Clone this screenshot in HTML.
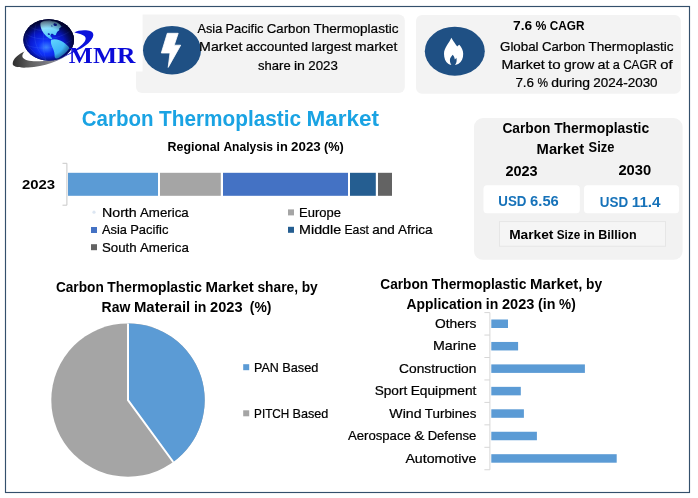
<!DOCTYPE html>
<html lang="en">
<head>
<meta charset="utf-8">
<title>Carbon Thermoplastic Market</title>
<style>
html,body{margin:0;padding:0;background:#fff;}
body{width:698px;height:498px;overflow:hidden;}
svg{display:block;font-family:"Liberation Sans", sans-serif;}
</style>
</head>
<body>
<svg width="698" height="498" viewBox="0 0 698 498">
<defs>
<radialGradient id="gGlobe" cx="0.46" cy="0.66" r="0.6" fx="0.45" fy="0.68">
<stop offset="0" stop-color="#3a84ff"/><stop offset="0.26" stop-color="#1034fa"/><stop offset="0.58" stop-color="#0818cc"/><stop offset="1" stop-color="#030a5a"/>
</radialGradient>
<radialGradient id="gEdge" cx="0.47" cy="0.55" r="0.56">
<stop offset="0.6" stop-color="#00001c" stop-opacity="0"/><stop offset="0.85" stop-color="#00001c" stop-opacity="0.45"/><stop offset="1" stop-color="#00001c" stop-opacity="0.9"/>
</radialGradient>
<clipPath id="cGlobe"><ellipse cx="48.7" cy="39.9" rx="25.3" ry="20.6"/></clipPath>
<linearGradient id="gSw" x1="0" y1="0" x2="1" y2="0">
<stop offset="0" stop-color="#2e2e2e"/><stop offset="0.3" stop-color="#5e5e5e"/><stop offset="0.7" stop-color="#85858c"/><stop offset="1" stop-color="#3848c0"/>
</linearGradient>
<linearGradient id="gLand" x1="0" y1="0" x2="0.3" y2="1">
<stop offset="0" stop-color="#c4f6ff"/><stop offset="1" stop-color="#48c4fa"/>
</linearGradient>
<linearGradient id="gLand2" x1="0" y1="0" x2="0.5" y2="1">
<stop offset="0" stop-color="#62d6ff"/><stop offset="1" stop-color="#2ea4f4"/>
</linearGradient>
</defs>
<rect x="0" y="0" width="698" height="498" fill="#fff"/>
<rect x="5.5" y="6.5" width="684" height="486" fill="#fff" stroke="#34506c" stroke-width="1.15"/>
<rect x="136" y="14.6" width="268.8" height="78.5" rx="6" fill="#f3f3f3"/>
<rect x="100" y="10" width="42.6" height="61.5" fill="#fff"/>
<g id="logo">
<path d="M12.7 63.8 C12.9 58.8 18.5 54.3 24.6 51.6 C21.2 55.2 21.4 58.6 27 60.2 C36 62.6 52 61.2 69.5 53.4 C60 60.8 44 66.6 28 67.6 C19 68.2 12.6 66.8 12.7 63.8 Z" fill="url(#gSw)"/>
<path d="M38 63.0 C51 62.2 62.5 58.4 72.2 51.8 C77 48.6 82 45.2 84.4 42 C86 39.8 86.2 37.6 84.4 36 C82.4 34.4 78.6 33.4 74.3 32.4 C77 30.6 81.5 29.9 86 30.2 C91.2 30.6 93.8 32.4 93.3 35.4 C92.4 40.4 86 46 78.3 49.8 C66.5 56.2 52 62.4 38 63.0 Z" fill="#0b12dc"/>
<ellipse cx="48.7" cy="39.9" rx="25.3" ry="20.6" fill="#02053a"/>
<ellipse cx="48.7" cy="39.9" rx="25.3" ry="20.6" fill="url(#gGlobe)"/>
<g clip-path="url(#cGlobe)">
<g fill="none" stroke="#5a8cff" stroke-opacity="0.35" stroke-width="0.5">
<path d="M46 60 C36 50 32 38 36 24"/><path d="M46 60 C42 48 42 34 47 20"/><path d="M46 60 C30 52 24 42 26 32"/>
<path d="M24 44 C36 50 56 50 72 40"/><path d="M26 34 C38 42 58 40 72 30"/><path d="M30 27 C40 33 56 31 66 24"/>
</g>
<path d="M40.6 22.8 C43 21 47 20.2 50.5 20.4 C52 21.4 53.5 20.8 55 21.4 C57.8 22.2 60.2 24 61.4 26.4 C60.8 27.4 59.6 27.6 59 28.8 C59.8 29.8 59.2 30.8 57.8 31.2 C56.8 32.4 56.2 33.4 56 34.8 C55.2 35.6 54 35.2 53.4 34.4 C52.4 33.8 51 34.2 50.4 35 C50.2 36.2 51 37.2 52 38 C52.4 38.8 51.6 39.4 50.6 39 C48.6 38 46.6 36.6 45.2 35 C43.4 33 41.8 30.6 41 28 C40.4 26.2 40.2 24.4 40.6 22.8 Z" fill="url(#gLand)"/>
<path d="M53.8 23.4 C55.2 23 56.8 23.8 57.2 25.2 C56.4 26.2 54.8 26.2 54 25.4 C53.4 24.8 53.3 24 53.8 23.4 Z M51.2 25.6 C52 25.4 52.6 25.9 52.5 26.6 C51.8 27 51.2 26.6 51.2 25.6 Z" fill="#0c1fa8"/>
<path d="M47.8 33.4 C48.8 33 49.8 33.4 50 34.4 C49.4 35.2 48.4 35.2 47.8 34.6 Z M51.2 33.8 C52.2 33.4 53.2 33.8 53.2 34.8 C52.6 35.4 51.6 35.4 51.2 34.8 Z" fill="#0c1fa8"/>
<path d="M51.2 39.8 C53.4 38.8 56.6 39 59.4 40.2 C62 41.2 64.4 42.6 66.2 44.4 C67.8 45.8 69.6 47 69.2 48.6 C67 52 63 55.4 58.6 58 C56.6 59 54.8 58.4 54.6 56.2 C54.8 53.4 54 50.8 52.8 48.2 C51.4 45.4 50.2 42.2 51.2 39.8 Z" fill="url(#gLand2)"/>
</g>
<ellipse cx="48.7" cy="39.9" rx="25.3" ry="20.6" fill="url(#gEdge)"/>
</g>
<text x="68.8" y="62.5" font-size="22.4" font-weight="700" font-family='"Liberation Serif", serif' fill="#0a0ad8" text-anchor="start" textLength="66.6" lengthAdjust="spacingAndGlyphs" xml:space="preserve">MMR</text>
<ellipse cx="172" cy="50.2" rx="29" ry="24.2" fill="#1f5084"/>
<path d="M167.3 33.3 L178.2 33.3 L174.2 45.2 L180.7 45.2 L168.2 67.4 L170.0 53.0 L161.3 53.0 Z" fill="#fff" stroke="#fff" stroke-width="0.8" stroke-linejoin="round"/>
<text y="32.5" font-size="13.1" fill="#000" stroke="#000" stroke-width="0.22"><tspan x="197.50" textLength="24.70" lengthAdjust="spacingAndGlyphs">Asia</tspan> <tspan x="225.53" textLength="37.96" lengthAdjust="spacingAndGlyphs">Pacific</tspan> <tspan x="266.82" textLength="43.26" lengthAdjust="spacingAndGlyphs">Carbon</tspan> <tspan x="313.41" textLength="85.06" lengthAdjust="spacingAndGlyphs">Thermoplastic</tspan></text>
<text y="50.8" font-size="13.1" fill="#000" stroke="#000" stroke-width="0.22"><tspan x="199.10" textLength="43.26" lengthAdjust="spacingAndGlyphs">Market</tspan> <tspan x="245.70" textLength="62.45" lengthAdjust="spacingAndGlyphs">accounted</tspan> <tspan x="311.49" textLength="40.11" lengthAdjust="spacingAndGlyphs">largest</tspan> <tspan x="354.93" textLength="42.44" lengthAdjust="spacingAndGlyphs">market</tspan></text>
<text y="69.6" font-size="13.1" fill="#000" stroke="#000" stroke-width="0.22"><tspan x="258.10" textLength="32.54" lengthAdjust="spacingAndGlyphs">share</tspan> <tspan x="293.94" textLength="11.02" lengthAdjust="spacingAndGlyphs">in</tspan> <tspan x="308.27" textLength="29.61" lengthAdjust="spacingAndGlyphs">2023</tspan></text>
<rect x="416" y="15" width="264.8" height="78.7" rx="6" fill="#f3f3f3"/>
<ellipse cx="454.8" cy="51.2" rx="30" ry="24.5" fill="#1f5084"/>
<path d="M451.3 37.8 C452.6 40.2 454.4 42.4 455.5 44.2 C456.2 45.2 456.8 45.9 457.2 46.5 C457.8 45.8 458.5 45.2 459.3 44.7 C461.6 47 463.2 50.4 463.2 53.8 C463.3 58.4 461.6 61.9 458.6 63.8 C457.5 64.5 456.3 64.9 455.0 65.1 C456.4 63.4 457.1 60.8 456.4 57.8 C455.9 58.6 455.3 59.2 454.8 59.5 C454.6 57.6 453.8 56.0 452.7 54.8 C451.4 56.5 449.9 58.0 449.9 60.0 C449.9 62.0 450.5 63.8 451.4 65.1 C450.0 64.9 449.0 64.4 448.2 63.8 C445.4 62 444.0 58 444.0 53.8 C444.0 48 449.2 43 451.3 37.8 Z" fill="#fff"/>
<text y="29.5" font-size="13.1" font-weight="700" fill="#000"><tspan x="513.00" textLength="19.11" lengthAdjust="spacingAndGlyphs">7.6</tspan> <tspan x="535.49" textLength="10.88" lengthAdjust="spacingAndGlyphs">%</tspan> <tspan x="549.74" textLength="34.67" lengthAdjust="spacingAndGlyphs">CAGR</tspan></text>
<text y="51.3" font-size="13.1" fill="#000" stroke="#000" stroke-width="0.22"><tspan x="500.00" textLength="38.60" lengthAdjust="spacingAndGlyphs">Global</tspan> <tspan x="541.93" textLength="43.27" lengthAdjust="spacingAndGlyphs">Carbon</tspan> <tspan x="588.53" textLength="85.09" lengthAdjust="spacingAndGlyphs">Thermoplastic</tspan></text>
<text y="69.4" font-size="13.1" fill="#000" stroke="#000" stroke-width="0.22"><tspan x="501.40" textLength="43.34" lengthAdjust="spacingAndGlyphs">Market</tspan> <tspan x="548.09" textLength="12.60" lengthAdjust="spacingAndGlyphs">to</tspan> <tspan x="564.03" textLength="30.18" lengthAdjust="spacingAndGlyphs">grow</tspan> <tspan x="597.55" textLength="11.89" lengthAdjust="spacingAndGlyphs">at</tspan> <tspan x="612.79" textLength="7.08" lengthAdjust="spacingAndGlyphs">a</tspan> <tspan x="623.21" textLength="33.68" lengthAdjust="spacingAndGlyphs">CAGR</tspan> <tspan x="660.23" textLength="12.31" lengthAdjust="spacingAndGlyphs">of</tspan></text>
<text y="87.3" font-size="13.1" fill="#000" stroke="#000" stroke-width="0.22"><tspan x="515.40" textLength="18.67" lengthAdjust="spacingAndGlyphs">7.6</tspan> <tspan x="537.40" textLength="10.54" lengthAdjust="spacingAndGlyphs">%</tspan> <tspan x="551.27" textLength="38.70" lengthAdjust="spacingAndGlyphs">during</tspan> <tspan x="593.31" textLength="64.30" lengthAdjust="spacingAndGlyphs">2024-2030</tspan></text>
<text y="126.4" font-size="21.3" font-weight="700" fill="#1aa3e3"><tspan x="81.70" textLength="71.87" lengthAdjust="spacingAndGlyphs">Carbon</tspan> <tspan x="159.00" textLength="142.07" lengthAdjust="spacingAndGlyphs">Thermoplastic</tspan> <tspan x="306.51" textLength="72.59" lengthAdjust="spacingAndGlyphs">Market</tspan></text>
<text y="150.7" font-size="13.1" font-weight="700" fill="#000"><tspan x="167.60" textLength="52.47" lengthAdjust="spacingAndGlyphs">Regional</tspan> <tspan x="223.38" textLength="49.66" lengthAdjust="spacingAndGlyphs">Analysis</tspan> <tspan x="276.35" textLength="11.45" lengthAdjust="spacingAndGlyphs">in</tspan> <tspan x="291.11" textLength="29.68" lengthAdjust="spacingAndGlyphs">2023</tspan> <tspan x="324.09" textLength="19.79" lengthAdjust="spacingAndGlyphs">(%)</tspan></text>
<path d="M62.5 163.3 H66.9 V205.2 H62.5" fill="none" stroke="#c8c8c8" stroke-width="1"/>
<rect x="68" y="172.8" width="90.0" height="23" fill="#5b9bd5"/>
<rect x="160" y="172.8" width="60.8" height="23" fill="#a5a5a5"/>
<rect x="223" y="172.8" width="125.0" height="23" fill="#4472c4"/>
<rect x="350" y="172.8" width="25.8" height="23" fill="#255e91"/>
<rect x="378" y="172.8" width="14.0" height="23" fill="#636363"/>
<text x="21.9" y="189.0" font-size="12.8" font-weight="700" fill="#000" text-anchor="start" textLength="33.2" lengthAdjust="spacingAndGlyphs" xml:space="preserve">2023</text>
<circle cx="94" cy="212.2" r="1.6" fill="#dce6f2"/>
<text y="217.0" font-size="13.1" fill="#000" stroke="#000" stroke-width="0.22"><tspan x="102.00" textLength="34.72" lengthAdjust="spacingAndGlyphs">North</tspan> <tspan x="140.01" textLength="48.78" lengthAdjust="spacingAndGlyphs">America</tspan></text>
<rect x="91" y="227.0" width="6" height="6" fill="#4472c4"/>
<text y="234.3" font-size="13.1" fill="#000" stroke="#000" stroke-width="0.22"><tspan x="102.00" textLength="24.85" lengthAdjust="spacingAndGlyphs">Asia</tspan> <tspan x="130.19" textLength="38.18" lengthAdjust="spacingAndGlyphs">Pacific</tspan></text>
<rect x="91" y="244.2" width="6" height="6" fill="#636363"/>
<text y="251.6" font-size="13.1" fill="#000" stroke="#000" stroke-width="0.22"><tspan x="102.00" textLength="34.64" lengthAdjust="spacingAndGlyphs">South</tspan> <tspan x="139.94" textLength="48.86" lengthAdjust="spacingAndGlyphs">America</tspan></text>
<rect x="288" y="209.4" width="6" height="6" fill="#a5a5a5"/>
<text y="217.0" font-size="13.1" fill="#000" stroke="#000" stroke-width="0.22"><tspan x="299.10" textLength="41.82" lengthAdjust="spacingAndGlyphs">Europe</tspan></text>
<rect x="288" y="226.8" width="6" height="6" fill="#255e91"/>
<text y="234.3" font-size="13.1" fill="#000" stroke="#000" stroke-width="0.22"><tspan x="299.10" textLength="42.04" lengthAdjust="spacingAndGlyphs">Middle</tspan> <tspan x="344.46" textLength="24.46" lengthAdjust="spacingAndGlyphs">East</tspan> <tspan x="372.24" textLength="22.47" lengthAdjust="spacingAndGlyphs">and</tspan> <tspan x="398.03" textLength="34.59" lengthAdjust="spacingAndGlyphs">Africa</tspan></text>
<rect x="474" y="118" width="208.6" height="141.8" rx="9" fill="#f2f2f2"/>
<text y="132.7" font-size="14.3" font-weight="700" fill="#000"><tspan x="502.40" textLength="48.09" lengthAdjust="spacingAndGlyphs">Carbon</tspan> <tspan x="554.13" textLength="95.07" lengthAdjust="spacingAndGlyphs">Thermoplastic</tspan></text>
<text font-size="14.3" font-weight="700" fill="#000"><tspan x="536.6" y="153.6" textLength="47.6" lengthAdjust="spacingAndGlyphs">Market</tspan> <tspan x="588.6" y="152.3" textLength="25.8" lengthAdjust="spacingAndGlyphs">Size</tspan></text>
<text y="175.6" font-size="14.2" font-weight="700" fill="#000"><tspan x="505.40" textLength="32.26" lengthAdjust="spacingAndGlyphs">2023</tspan></text>
<text y="174.7" font-size="14.2" font-weight="700" fill="#000"><tspan x="618.40" textLength="32.76" lengthAdjust="spacingAndGlyphs">2030</tspan></text>
<rect x="483.5" y="185.2" width="96.3" height="28" rx="3.5" fill="#fff"/>
<rect x="584" y="185.2" width="95" height="28" rx="3.5" fill="#fff"/>
<text y="205.5" font-size="14.3" font-weight="700" fill="#1672b9"><tspan x="498.30" textLength="28.18" lengthAdjust="spacingAndGlyphs">USD</tspan> <tspan x="530.11" textLength="28.69" lengthAdjust="spacingAndGlyphs">6.56</tspan></text>
<text y="206.6" font-size="14.3" font-weight="700" fill="#1672b9"><tspan x="599.80" textLength="28.32" lengthAdjust="spacingAndGlyphs">USD</tspan> <tspan x="631.76" textLength="28.83" lengthAdjust="spacingAndGlyphs">11.4</tspan></text>
<rect x="499.5" y="221.6" width="166" height="24.6" fill="#f5f5f5" stroke="#e6e6e6" stroke-width="1"/>
<text y="238.9" font-size="13.1" font-weight="700" fill="#000"><tspan x="509.20" textLength="44.25" lengthAdjust="spacingAndGlyphs">Market</tspan> <tspan x="556.76" textLength="23.46" lengthAdjust="spacingAndGlyphs">Size</tspan> <tspan x="583.53" textLength="11.46" lengthAdjust="spacingAndGlyphs">in</tspan> <tspan x="598.31" textLength="38.36" lengthAdjust="spacingAndGlyphs">Billion</tspan></text>
<text y="291.9" font-size="14.3" font-weight="700" fill="#000"><tspan x="55.90" textLength="47.84" lengthAdjust="spacingAndGlyphs">Carbon</tspan> <tspan x="107.35" textLength="94.56" lengthAdjust="spacingAndGlyphs">Thermoplastic</tspan> <tspan x="205.54" textLength="48.31" lengthAdjust="spacingAndGlyphs">Market</tspan> <tspan x="257.47" textLength="40.56" lengthAdjust="spacingAndGlyphs">share,</tspan> <tspan x="301.65" textLength="16.08" lengthAdjust="spacingAndGlyphs">by</tspan></text>
<text y="312.0" font-size="14.3" font-weight="700" fill="#000"><tspan x="101.60" textLength="28.74" lengthAdjust="spacingAndGlyphs">Raw</tspan> <tspan x="133.96" textLength="56.30" lengthAdjust="spacingAndGlyphs">Materail</tspan> <tspan x="193.88" textLength="12.53" lengthAdjust="spacingAndGlyphs">in</tspan> <tspan x="210.04" textLength="32.48" lengthAdjust="spacingAndGlyphs">2023</tspan> <tspan x="249.76" textLength="21.66" lengthAdjust="spacingAndGlyphs">(%)</tspan></text>
<circle cx="128.0" cy="400.1" r="76.7" fill="#a5a5a5"/>
<path d="M128.0 400.1 L128.0 323.40000000000003 A76.7 76.7 0 0 1 173.25 462.03 Z" fill="#5b9bd5"/>
<path d="M128.0 323.40000000000003 L128.0 400.1 L173.25 462.03" fill="none" stroke="#fff" stroke-width="2" stroke-linejoin="miter"/>
<rect x="243.2" y="364.2" width="6" height="6" fill="#5b9bd5"/>
<text y="371.7" font-size="13.1" fill="#000" stroke="#000" stroke-width="0.22"><tspan x="254.10" textLength="24.76" lengthAdjust="spacingAndGlyphs">PAN</tspan> <tspan x="282.21" textLength="36.19" lengthAdjust="spacingAndGlyphs">Based</tspan></text>
<rect x="243.2" y="410.3" width="6" height="6" fill="#a5a5a5"/>
<text y="417.7" font-size="13.1" fill="#000" stroke="#000" stroke-width="0.22"><tspan x="254.10" textLength="35.15" lengthAdjust="spacingAndGlyphs">PITCH</tspan> <tspan x="292.58" textLength="35.82" lengthAdjust="spacingAndGlyphs">Based</tspan></text>
<text y="288.9" font-size="14.3" font-weight="700" fill="#000"><tspan x="380.30" textLength="47.84" lengthAdjust="spacingAndGlyphs">Carbon</tspan> <tspan x="431.76" textLength="94.57" lengthAdjust="spacingAndGlyphs">Thermoplastic</tspan> <tspan x="529.94" textLength="52.44" lengthAdjust="spacingAndGlyphs">Market,</tspan> <tspan x="586.00" textLength="16.08" lengthAdjust="spacingAndGlyphs">by</tspan></text>
<text y="308.9" font-size="14.3" font-weight="700" fill="#000"><tspan x="406.60" textLength="75.59" lengthAdjust="spacingAndGlyphs">Application</tspan> <tspan x="485.80" textLength="12.51" lengthAdjust="spacingAndGlyphs">in</tspan> <tspan x="501.93" textLength="32.42" lengthAdjust="spacingAndGlyphs">2023</tspan> <tspan x="537.96" textLength="17.49" lengthAdjust="spacingAndGlyphs">(in</tspan> <tspan x="559.07" textLength="16.64" lengthAdjust="spacingAndGlyphs">%)</tspan></text>
<path d="M489.9 312.6 V469.75 M484.4 312.60 H489.9 M484.4 335.05 H489.9 M484.4 357.50 H489.9 M484.4 379.95 H489.9 M484.4 402.40 H489.9 M484.4 424.85 H489.9 M484.4 447.30 H489.9 M484.4 469.75 H489.9" fill="none" stroke="#d6d6d6" stroke-width="1"/>
<text y="327.8" font-size="13.1" fill="#000" stroke="#000" stroke-width="0.22"><tspan x="435.00" textLength="41.37" lengthAdjust="spacingAndGlyphs">Others</tspan></text>
<rect x="491.3" y="319.50" width="16.7" height="8.5" fill="#5b9bd5"/>
<text y="350.2" font-size="13.1" fill="#000" stroke="#000" stroke-width="0.22"><tspan x="433.00" textLength="43.40" lengthAdjust="spacingAndGlyphs">Marine</tspan></text>
<rect x="491.3" y="341.95" width="26.8" height="8.5" fill="#5b9bd5"/>
<text y="372.7" font-size="13.1" fill="#000" stroke="#000" stroke-width="0.22"><tspan x="399.10" textLength="77.26" lengthAdjust="spacingAndGlyphs">Construction</tspan></text>
<rect x="491.3" y="364.40" width="93.6" height="8.5" fill="#5b9bd5"/>
<text y="395.1" font-size="13.1" fill="#000" stroke="#000" stroke-width="0.22"><tspan x="374.70" textLength="32.60" lengthAdjust="spacingAndGlyphs">Sport</tspan> <tspan x="410.66" textLength="65.72" lengthAdjust="spacingAndGlyphs">Equipment</tspan></text>
<rect x="491.3" y="386.85" width="29.5" height="8.5" fill="#5b9bd5"/>
<text y="417.6" font-size="13.1" fill="#000" stroke="#000" stroke-width="0.22"><tspan x="389.30" textLength="32.23" lengthAdjust="spacingAndGlyphs">Wind</tspan> <tspan x="424.88" textLength="51.51" lengthAdjust="spacingAndGlyphs">Turbines</tspan></text>
<rect x="491.3" y="409.30" width="32.6" height="8.5" fill="#5b9bd5"/>
<text y="440.1" font-size="13.1" fill="#000" stroke="#000" stroke-width="0.22"><tspan x="347.90" textLength="62.95" lengthAdjust="spacingAndGlyphs">Aerospace</tspan> <tspan x="414.19" textLength="10.10" lengthAdjust="spacingAndGlyphs">&amp;</tspan> <tspan x="427.64" textLength="48.79" lengthAdjust="spacingAndGlyphs">Defense</tspan></text>
<rect x="491.3" y="431.75" width="45.6" height="8.5" fill="#5b9bd5"/>
<text y="462.5" font-size="13.1" fill="#000" stroke="#000" stroke-width="0.22"><tspan x="405.40" textLength="70.99" lengthAdjust="spacingAndGlyphs">Automotive</tspan></text>
<rect x="491.3" y="454.20" width="125.4" height="8.5" fill="#5b9bd5"/>
</svg>
</body>
</html>
